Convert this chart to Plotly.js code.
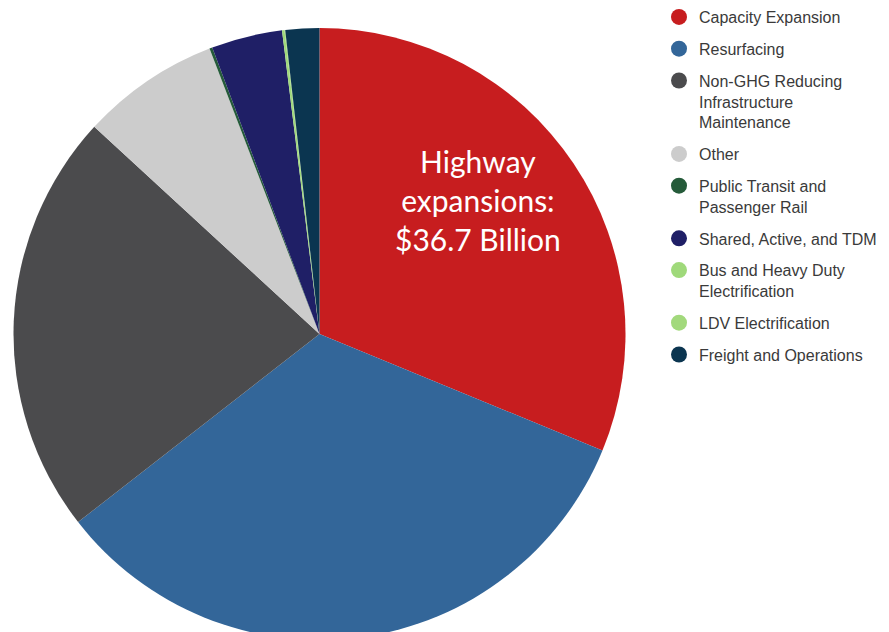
<!DOCTYPE html>
<html>
<head>
<meta charset="utf-8">
<script src="https://cdn.plot.ly/plotly-3.0.1.min.js"></script>
<style>
  html, body { margin: 0; padding: 0; background: #ffffff; overflow: hidden; }
  #chart { width: 889px; height: 644px; }
</style>
</head>
<body>
<div id="chart"></div>
<script>
// Categories (legend order, clockwise from 12 o'clock)
const categories = [
  "Capacity Expansion",
  "Resurfacing",
  "Non-GHG Reducing Infrastructure Maintenance",
  "Other",
  "Public Transit and Passenger Rail",
  "Shared, Active, and TDM",
  "Bus and Heavy Duty Electrification",
  "LDV Electrification",
  "Freight and Operations"
];
// Legend labels with line breaks as in the reference
const legendLabels = [
  "Capacity Expansion",
  "Resurfacing",
  "Non-GHG Reducing<br>Infrastructure<br>Maintenance",
  "Other",
  "Public Transit and<br>Passenger Rail",
  "Shared, Active, and TDM",
  "Bus and Heavy Duty<br>Electrification",
  "LDV Electrification",
  "Freight and Operations"
];
// Spending, billions of dollars (Capacity Expansion = 36.7)
const values = [36.7, 39.1, 26.3, 8.6, 0.18, 4.4, 0.15, 0.05, 2.1];
const colors = ["#c71d1f", "#336699", "#4b4b4d", "#cccccc", "#255b3a", "#1f1f66", "#9fd97a", "#a2d97c", "#0b3550"];
const calloutText = "Highway<br>expansions:<br>$36.7 Billion";

// The pie runs slightly past the bottom of the 632px window, as in the reference
const W = 889, H = 644;

const traces = [{
  type: "pie",
  labels: categories,
  values: values,
  sort: false,
  direction: "clockwise",
  rotation: 0,
  marker: { colors: colors, line: { width: 0 } },
  textinfo: "none",
  hoverinfo: "label+value",
  showlegend: false,
  domain: { x: [13.5 / W, 625.5 / W], y: [4 / H, 616 / H] }
}];

// Legend entries (circle markers) drawn through Plotly's legend
categories.forEach(function (c, i) {
  traces.push({
    type: "scatter",
    mode: "markers",
    x: [null], y: [null],
    name: legendLabels[i],
    legendgroup: "g" + i,
    marker: { color: colors[i], size: 17, symbol: "circle" },
    showlegend: true,
    hoverinfo: "skip"
  });
});

const layout = {
  width: W, height: H,
  margin: { l: 0, r: 0, t: 0, b: 0, autoexpand: false },
  paper_bgcolor: "#ffffff",
  plot_bgcolor: "#ffffff",
  xaxis: { visible: false, domain: [0.75, 0.76] },
  yaxis: { visible: false, domain: [0.0, 0.01] },
  showlegend: true,
  legend: {
    x: 659 / W, xanchor: "left",
    y: 1, yanchor: "top",
    valign: "top",
    tracegroupgap: 8,
    bgcolor: "rgba(0,0,0,0)",
    font: { family: "Liberation Sans, Arial, sans-serif", size: 16, color: "#3a3a3a" },
    itemclick: false, itemdoubleclick: false
  },
  annotations: [{
    xref: "paper", yref: "paper",
    x: 478 / W, y: 1 - 200 / H,
    xanchor: "center", yanchor: "middle",
    text: calloutText,
    showarrow: false,
    align: "center",
    font: { family: "Lato, sans-serif", size: 30, color: "#ffffff" }
  }]
};

Plotly.newPlot("chart", traces, layout, { displayModeBar: false, staticPlot: true });
</script>
</body>
</html>
